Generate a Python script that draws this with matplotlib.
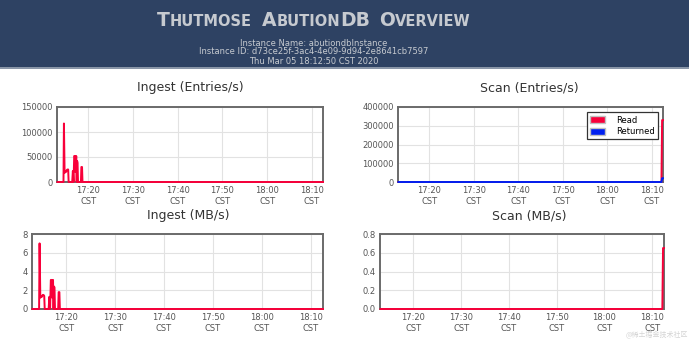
import datetime as dt
import matplotlib
matplotlib.use("Agg")
import matplotlib.pyplot as plt
import matplotlib.dates as mdates
from matplotlib.offsetbox import TextArea, HPacker, AnchoredOffsetbox
from matplotlib.patches import Patch

# ---- data (minutes after 17:00) ----
ingest_t = [13.1, 14.45, 14.55, 14.7, 14.85, 15.0, 15.2, 15.35, 15.5, 15.6,
            16.4, 16.55, 16.7, 16.85, 17.0, 17.15, 17.3, 17.4, 17.5, 17.6,
            17.7, 17.8, 18.35, 18.45, 18.6, 18.7, 72.5]
ingest_entries = [0, 0, 117000, 18000, 22000, 20000, 24000, 25000, 25000, 0,
                  0, 22000, 0, 52000, 52000, 20000, 52000, 0, 42000, 38000,
                  0, 0, 0, 30000, 30000, 0, 0]
ingest_mb = [0, 0, 7.0, 1.2, 1.4, 1.3, 1.5, 1.5, 1.4, 0,
             0, 1.3, 0, 3.1, 3.1, 1.2, 3.1, 0, 2.4, 2.3,
             0, 0, 0, 1.8, 1.8, 0, 0]

scan_t = [13.1, 72.0, 72.15, 72.3, 72.5]
scan_read = [0, 0, 0, 330000, 330000]
scan_returned = [0, 0, 0, 20000, 20000]
scan_mb = [0, 0, 0, 0.65, 0.65]

x_range = (13.0, 72.5)
tick_minutes = [20, 30, 40, 50, 60, 70]

instance_name = "abutiondbInstance"
instance_id = "d73ce25f-3ac4-4e09-9d94-2e8641cb7597"
stamp = "Thu Mar 05 18:12:50 CST 2020"

base = dt.datetime(2020, 3, 5, 17, 0)


def to_dt(mins):
    return [base + dt.timedelta(minutes=m) for m in mins]


red = "#f8003a"
blue = "#0020f0"
header_bg = "#2e4263"
header_fg = "#c6cad0"
tick_col = "#555555"
grid_col = "#e2e2e2"
frame_col = "#6a6a6a"

W, H = 689, 339
fig = plt.figure(figsize=(W / 100, H / 100), dpi=100)
fig.patch.set_facecolor("white")

# header band
fig.patches.append(plt.Rectangle((0, 1 - 67 / H), 1, 67 / H, transform=fig.transFigure,
                                 facecolor=header_bg, edgecolor="none", zorder=0))
fig.patches.append(plt.Rectangle((0, 1 - 69 / H), 1, 2 / H, transform=fig.transFigure,
                                 facecolor="#8a96a8", edgecolor="none", zorder=0))

# small-caps title
big = dict(color=header_fg, fontsize=13.5, fontweight="bold")
small = dict(color=header_fg, fontsize=10.5, fontweight="bold")


def word(parts):
    return HPacker(children=[TextArea(t, textprops=p) for t, p in parts],
                   align="baseline", pad=0, sep=0)


title = HPacker(children=[word([("T", big), ("HUTMOSE", small)]),
                          word([("A", big), ("BUTION", small), ("DB", big)]),
                          word([("O", big), ("VERVIEW", small)])],
                align="baseline", pad=0, sep=7)
ab = AnchoredOffsetbox(loc="center", child=title, frameon=False, pad=0, borderpad=0,
                       bbox_to_anchor=(314 / W, 1 - 21 / H), bbox_transform=fig.transFigure)
fig.add_artist(ab)

sub = [f"Instance Name: {instance_name}", f"Instance ID: {instance_id}", stamp]
for i, s in enumerate(sub):
    fig.text(314 / W, 1 - (43 + 9 * i) / H, s, ha="center", va="center",
             fontsize=6, color=header_fg)


def make_ax(left, top, right, bottom, ymax, ystep, fmt=None):
    ax = fig.add_axes([left / W, 1 - bottom / H, (right - left) / W, (bottom - top) / H])
    ax.set_xlim(to_dt(x_range))
    ax.set_ylim(0, ymax)
    ax.set_xticks(to_dt(tick_minutes))
    ax.xaxis.set_major_formatter(mdates.DateFormatter("%H:%M\nCST"))
    n = int(round(ymax / ystep))
    ax.set_yticks([ystep * k for k in range(n + 1)])
    if fmt:
        ax.yaxis.set_major_formatter(plt.FormatStrFormatter(fmt))
    ax.grid(True, color=grid_col, linewidth=0.8)
    ax.set_axisbelow(True)
    ax.tick_params(length=0, labelsize=6, colors=tick_col, pad=3)
    for sp in ax.spines.values():
        sp.set_color(frame_col)
        sp.set_linewidth(1.4)
    return ax


line_kw = dict(lw=1.4, clip_on=False, zorder=3)

ax1 = make_ax(57, 107, 323, 182, 150000, 50000)
ax1.plot(to_dt(ingest_t), ingest_entries, color=red, **line_kw)

ax2 = make_ax(398, 107, 663, 182, 400000, 100000)
ax2.plot(to_dt(scan_t), scan_read, color=red, **line_kw)
ax2.plot(to_dt(scan_t), scan_returned, color=blue, **line_kw)
leg = ax2.legend(handles=[Patch(facecolor=red, edgecolor="#c0c0c0", label="Read"),
                          Patch(facecolor=blue, edgecolor="#c0c0c0", label="Returned")],
                 loc="upper right", bbox_to_anchor=(0.997, 0.985), fontsize=6,
                 fancybox=False, framealpha=1, edgecolor="#333333",
                 handlelength=1.8, handleheight=0.9, labelspacing=0.3,
                 handletextpad=1.3, borderpad=0.4)
leg.get_frame().set_linewidth(0.9)

ax3 = make_ax(32, 234, 323, 309, 8, 2)
ax3.plot(to_dt(ingest_t), ingest_mb, color=red, **line_kw)

ax4 = make_ax(380, 234, 664, 309, 0.8, 0.2, "%.1f")
ax4.plot(to_dt(scan_t), scan_mb, color=red, **line_kw)

for x, y, s in [(190, 88, "Ingest (Entries/s)"), (529, 88, "Scan (Entries/s)"),
                (188, 216, "Ingest (MB/s)"), (529, 216, "Scan (MB/s)")]:
    fig.text(x / W, 1 - y / H, s, ha="center", va="center", fontsize=9, color="#333333")

# watermark, kept just below the last tick label
fig.text(688 / W, 0, "@稀土掘金技术社区", ha="right", va="bottom", fontsize=5,
         color="#d4d4d4", family=["Noto Sans CJK SC", "DejaVu Sans"])

fig.savefig("out.png", dpi=100)
